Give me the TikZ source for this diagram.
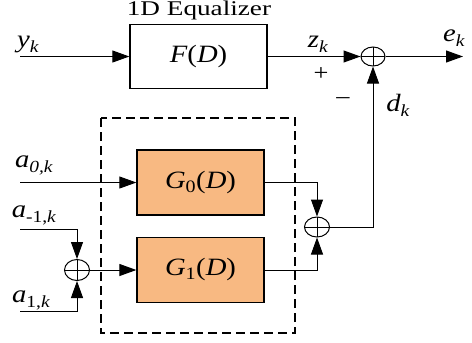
\documentclass[tikz,border=0pt]{standalone}
\usepackage{fontspec}
\setmainfont[FakeStretch=1.15]{Liberation Serif}
\newfontfamily\titlefont[FakeStretch=1.3]{Liberation Serif}
\usetikzlibrary{arrows.meta,shapes.geometric}
\definecolor{gfill}{RGB}{248,185,130}
\newcommand\subtxt[1]{\raisebox{-0.2em}{\fontsize{17}{18}\selectfont #1}}
\newcommand\lab[2]{\textit{#1}\subtxt{#2}}
\tikzset{
 wire/.style={line width=1bp},
 arr/.style={wire,-{Triangle[length=17bp,width=12bp]}},
 blockbox/.style={draw,line width=1.3bp,minimum width=137bp,minimum height=64bp,inner sep=0pt,font=\fontsize{25}{28}\selectfont},
 gbox/.style={blockbox,fill=gfill,minimum width=127bp,minimum height=65bp},
 summer/.style={ellipse,draw,line width=1bp,minimum width=24bp,minimum height=19bp,inner sep=0pt,
   path picture={\draw[line width=1bp] (path picture bounding box.north) -- (path picture bounding box.south)
     (path picture bounding box.west) -- (path picture bounding box.east);}},
 lbl/.style={font=\fontsize{25}{27}\selectfont,inner sep=0pt},
 sgn/.style={font=\fontsize{23}{25}\selectfont,inner sep=0pt},
}
\begin{document}
\begin{tikzpicture}[x=1bp,y=-1bp]
\useasboundingbox (0,0) rectangle (472,342);
% blocks
\node[blockbox] (F) at (198.5,56.5) {\textit{F}(\textit{D})};
\node[gbox] (G0) at (200.5,182.5) {\textit{G}\textsubscript{0}(\textit{D})};
\node[gbox] (G1) at (200.5,270) {\textit{G}\textsubscript{1}(\textit{D})};
\node[summer] (S1) at (373,56.5) {};
\node[summer, minimum width=25bp, minimum height=21bp] (S2) at (77,270) {};
\node[summer, minimum width=25bp, minimum height=20bp] (S3) at (317,227) {};
% free ends
\coordinate (yin) at (20,56.5);
\coordinate (eout) at (463,56.5);
\coordinate (a0in) at (20,182.5);
\coordinate (am1in) at (20,229);
\coordinate (a1in) at (20,311);
% dashed frame
\draw[line width=2.2bp, dash pattern=on 9bp off 5bp] (101,118) rectangle (295,333);
% connectors
\draw[arr] (yin) -- (F.west);
\draw[arr] (F.east) -- (S1.west);
\draw[arr] (S1.east) -- (eout);
\draw[arr] (S3.east) -| (S1.south);
\draw[arr] (a0in) -- (G0.west);
\draw[arr] (am1in) -| (S2.north);
\draw[arr] (a1in) -| (S2.south);
\draw[arr] (S2.east) -- (G1.west);
\draw[arr] (G0.east) -| (S3.north);
\draw[arr] (G1.east) -| (S3.south);
% labels
\node[inner sep=0pt, font=\titlefont\fontsize{21}{23}\selectfont] (title) at (199,10.5) {1D Equalizer};
\node[lbl] (ly) at (28,44) {\lab{y}{\textit{k}}};
\node[lbl] (lz) at (318,44) {\lab{z}{\textit{k}}};
\node[lbl] (le) at (454,38) {\lab{e}{\textit{k}}};
\node[lbl] (ld) at (398,105) {\lab{d}{\textit{k}}};
\node[sgn] (plus) at (321,74) {+};
\node[sgn] (minus) at (343,101) {\textendash};
\node[lbl] (la0) at (34,165) {\lab{a}{\textit{0,k}}};
\node[lbl] (lam1) at (34,215) {\lab{a}{-1,\textit{k}}};
\node[lbl] (la1) at (31,300) {\lab{a}{1,\textit{k}}};
\end{tikzpicture}
\end{document}
